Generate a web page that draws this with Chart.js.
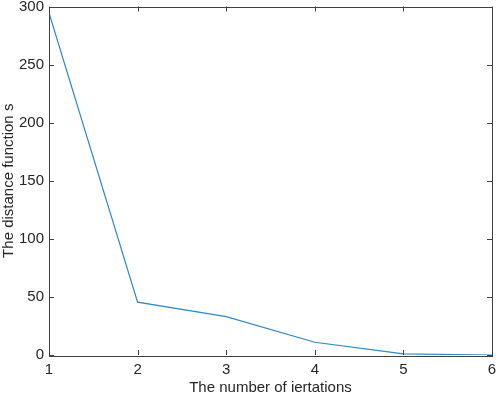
<!DOCTYPE html>
<html><head><meta charset="utf-8">
<script src="https://cdn.jsdelivr.net/npm/chart.js@4/dist/chart.umd.min.js"></script>
<style>html,body{margin:0;padding:0;background:#fff}#wrap{width:498px;height:397px}</style>
</head><body><div id="wrap"><canvas id="c" width="498" height="397"></canvas></div>
<script>
const iterations = [1, 2, 3, 4, 5, 6];
const distanceValues = [294.5, 45.5, 33, 11, 1, 0];
const xTicks = [1, 2, 3, 4, 5, 6];
const yTicks = [0, 50, 100, 150, 200, 250, 300];

const axisColor = '#404040';
const textColor = '#262626';
const font = {family: 'Liberation Sans, Arial, sans-serif', size: 15};

const boxPlugin = {
  id: 'box',
  afterDatasetsDraw(chart) {
    const {ctx, chartArea: a, scales: {x, y}} = chart;
    ctx.save();
    ctx.strokeStyle = axisColor;
    ctx.lineWidth = 1;
    ctx.strokeRect(Math.round(a.left) + 0.5, Math.round(a.top) + 0.5, Math.round(a.right - a.left), Math.round(a.bottom - a.top));
    const L = 5;
    ctx.beginPath();
    xTicks.forEach(v => {
      const px = Math.round(x.getPixelForValue(v)) + 0.5;
      ctx.moveTo(px, a.bottom); ctx.lineTo(px, a.bottom - L);
      ctx.moveTo(px, a.top); ctx.lineTo(px, a.top + L);
    });
    yTicks.forEach(v => {
      const py = Math.round(y.getPixelForValue(v)) + 0.5;
      ctx.moveTo(a.left, py); ctx.lineTo(a.left + L, py);
      ctx.moveTo(a.right, py); ctx.lineTo(a.right - L, py);
    });
    ctx.stroke();
    ctx.restore();
  }
};

new Chart(document.getElementById('c'), {
  type: 'line',
  data: {
    datasets: [{
      data: iterations.map((v, i) => ({x: v, y: distanceValues[i]})),
      borderColor: '#2d88c4',
      borderWidth: 1.2,
      pointRadius: 0,
      tension: 0,
      fill: false
    }]
  },
  options: {
    responsive: false,
    animation: false,
    devicePixelRatio: 1,
    layout: {padding: {top: 6.5, right: 6, left: 0, bottom: 0}},
    plugins: {legend: {display: false}, tooltip: {enabled: false}},
    scales: {
      x: {
        type: 'linear', min: 1, max: 6,
        afterBuildTicks: s => { s.ticks = xTicks.map(v => ({value: v})); },
        afterFit: s => { s.height = 42; s.paddingLeft = 0; s.paddingRight = 0; },
        grid: {display: false, drawTicks: false},
        border: {display: false},
        ticks: {color: textColor, font: font, padding: 6},
        title: {display: true, text: 'The number of iertations', color: textColor, font: font, padding: {top: 1, bottom: 0}}
      },
      y: {
        type: 'linear', min: 0, max: 300,
        afterBuildTicks: s => { s.ticks = yTicks.map(v => ({value: v})); },
        afterFit: s => { s.width = 49; s.paddingTop = 0; s.paddingBottom = 0; },
        grid: {display: false, drawTicks: false},
        border: {display: false},
        ticks: {color: textColor, font: font, padding: 5},
        title: {display: true, text: 'The distance function s', color: textColor, font: font, padding: {top: 0, bottom: 0}}
      }
    }
  },
  plugins: [boxPlugin]
});
</script>
</body></html>
